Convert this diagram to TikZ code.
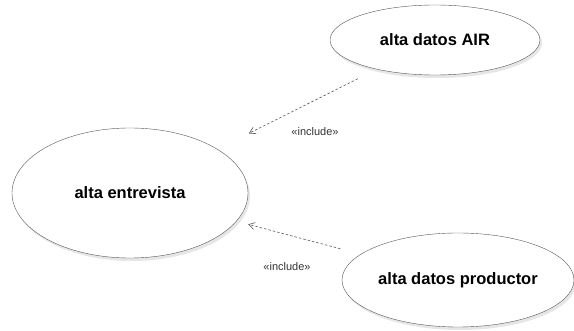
\documentclass[tikz,border=0pt]{standalone}
\usepackage{fontspec}
\setmainfont{Liberation Sans}
\usetikzlibrary{shapes.geometric, arrows.meta, shadows}
\definecolor{MyLine}{HTML}{555555}
\definecolor{MyText}{HTML}{333333}

\begin{document}
\begin{tikzpicture} [
			x=1pt, y=-1pt,
			usecase/.style={ellipse,draw=MyLine,fill=white,inner sep=0pt,font=\bfseries\fontsize{16.5}{19}\selectfont,
				drop shadow={fill=black!12,opacity=0.8,shadow xshift=2pt,shadow yshift=-3pt}},
			incl/.style={draw=MyLine,thick,dash pattern=on 2.5pt off 2pt,-{Straight Barb[length=6pt,width=7pt,line width=0.6pt]}},
			stereo/.style={text=MyText,font=\fontsize{11}{13}\selectfont}
		]
			\useasboundingbox (0,0) rectangle (574,331);
			\node at (130,193) [usecase,minimum width=236pt,minimum height=130pt] (entrevista) {alta entrevista};
			\node at (435,40) [usecase,minimum width=210pt,minimum height=70pt] (datosair) {alta datos AIR};
			\node at (458,280) [usecase,minimum width=232pt,minimum height=94pt] (datosprod) {alta datos productor};
			\node at (315,132) [stereo] (inclair) {«include»};
			\node at (287,267) [stereo] (inclprod) {«include»};
			\path[incl,line width=0.6pt,shorten <=21pt,shorten >=35pt] (datosair) -- (entrevista);
			\path[incl,line width=0.6pt,shorten <=21pt,shorten >=12pt] (datosprod) -- (entrevista);
		\end{tikzpicture}
\end{document}
